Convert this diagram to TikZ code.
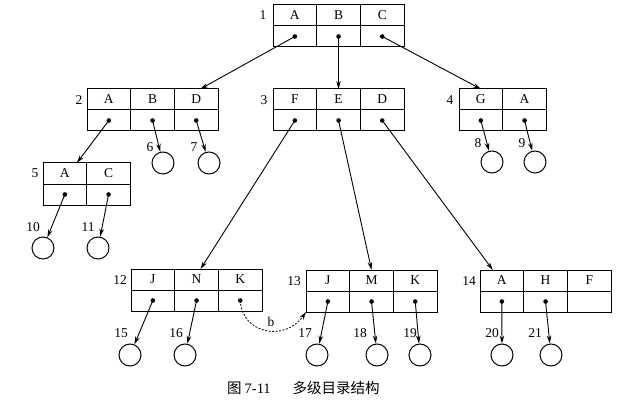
\documentclass[tikz,border=0pt]{standalone}
\usepackage{fontspec}
\setmainfont{Liberation Serif}
\newfontfamily\cjk{Noto Sans CJK SC}
\usetikzlibrary{arrows.meta,calc}
\tikzset{
  cell/.style={draw, line width=1pt, minimum width=43.7pt, minimum height=21pt,
    inner sep=0pt, outer sep=0pt, font=\fontsize{13.5}{15}\selectfont},
  num/.style={inner sep=0pt, font=\fontsize{13.5}{15}\selectfont},
  leaf/.style={draw, line width=1pt, circle, minimum size=22pt, inner sep=0pt},
  arr/.style={line width=0.9pt, -{Stealth[length=8pt,width=4.5pt]}},
  darr/.style={line width=0.8pt, dashed, dash pattern=on 2pt off 1.5pt, -{Stealth[length=8pt,width=4.5pt]}}
}
\newcommand\recbox[5]{%
  \foreach \l [count=\i] in {#4} {
    \node[cell] (#1-t\i) at ({#2+(\i-0.5)*43.7}, {#3+10.5}) {\l};
    \node[cell] (#1-b\i) at ({#2+(\i-0.5)*43.7}, {#3+31.5}) {};
    \ifnum\i>#5\relax\else\fill (#1-b\i.center) circle (2.3pt);\fi
  }}
\begin{document}
\begin{tikzpicture}[x=1pt,y=-1pt]
\useasboundingbox[fill=white] (0,0) rectangle (640,401);
% boxes
\recbox{r1}{273}{5}{A,B,C}{3}
\recbox{r2}{87}{89}{A,B,D}{3}
\recbox{r3}{273}{89}{F,E,D}{3}
\recbox{r4}{459}{89}{G,A}{2}
\recbox{r5}{43}{163}{A,C}{2}
\recbox{r12}{131}{269}{J,N,K}{3}
\recbox{r13}{306}{270}{J,M,K}{3}
\recbox{r14}{480}{270}{A,H,F}{2}
% box numbers
\node[num] (n1) at (263,15) {1};
\node[num] (n2) at (79,100) {2};
\node[num] (n3) at (264,100) {3};
\node[num] (n4) at (450,100) {4};
\node[num] (n5) at (35,173) {5};
\node[num] (n12) at (120,280) {12};
\node[num] (n13) at (294,281) {13};
\node[num] (n14) at (469,281) {14};
% leaves
\node[leaf] (c6) at (163,163) {};
\node[leaf] (c7) at (209,163) {};
\node[leaf] (c8) at (492,162) {};
\node[leaf] (c9) at (535,162) {};
\node[leaf] (c10) at (43,248) {};
\node[leaf] (c11) at (98,248) {};
\node[leaf] (c15) at (130,355) {};
\node[leaf] (c16) at (185,355) {};
\node[leaf] (c17) at (317,355) {};
\node[leaf] (c18) at (377,355) {};
\node[leaf] (c19) at (420,355) {};
\node[leaf] (c20) at (502,355) {};
\node[leaf] (c21) at (551,355) {};
% leaf numbers
\node[num] (l6) at (150,147) {6};
\node[num] (l7) at (194,147) {7};
\node[num] (l8) at (478,143) {8};
\node[num] (l9) at (522,143) {9};
\node[num] (l10) at (33,227) {10};
\node[num] (l11) at (88,227) {11};
\node[num] (l15) at (121,333) {15};
\node[num] (l16) at (176,333) {16};
\node[num] (l17) at (305,333) {17};
\node[num] (l18) at (360,333) {18};
\node[num] (l19) at (410,333) {19};
\node[num] (l20) at (492,333) {20};
\node[num] (l21) at (535,333) {21};
% box to box arrows
\draw[arr] (r1-b1.center) -- ([xshift=4pt]r2-t3.north);
\draw[arr] (r1-b2.center) -- (r3-t2.north);
\draw[arr] (r1-b3.center) -- (r4-t1.north);
\draw[arr] (r2-b1.center) -- ([xshift=12pt]r5-t1.north);
\draw[arr] (r3-b1.center) -- ([xshift=4pt]r12-t2.north);
\draw[arr] (r3-b2.center) -- (r13-t2.north);
\draw[arr] (r3-b3.center) -- ([xshift=-9pt]r14-t1.north);
% box to leaf arrows
\draw[arr] (r2-b2.center) -- (c6);
\draw[arr] (r2-b3.center) -- (c7);
\draw[arr] (r4-b1.center) -- (c8);
\draw[arr] (r4-b2.center) -- (c9);
\draw[arr] (r5-b1.center) -- (c10);
\draw[arr] (r5-b2.center) -- (c11);
\draw[arr] (r12-b1.center) -- (c15);
\draw[arr] (r12-b2.center) -- (c16);
\draw[arr] (r13-b1.center) -- (c17);
\draw[arr] (r13-b2.center) -- (c18);
\draw[arr] (r13-b3.center) -- (c19);
\draw[arr] (r14-b1.center) -- (c20);
\draw[arr] (r14-b2.center) -- (c21);
% link b
\draw[darr] (r12-b3.center) .. controls (242,334) and (285,342) .. (r13-b1.south west);
\node[num] (lb) at (271,322) {b};
% caption
\node[anchor=west, inner sep=0pt, font=\fontsize{14.5}{16}\selectfont] (cap) at (227,388)
  {{\cjk 图}\hspace{3pt}7-11\hspace{22pt}{\cjk 多级目录结构}};
\end{tikzpicture}
\end{document}
